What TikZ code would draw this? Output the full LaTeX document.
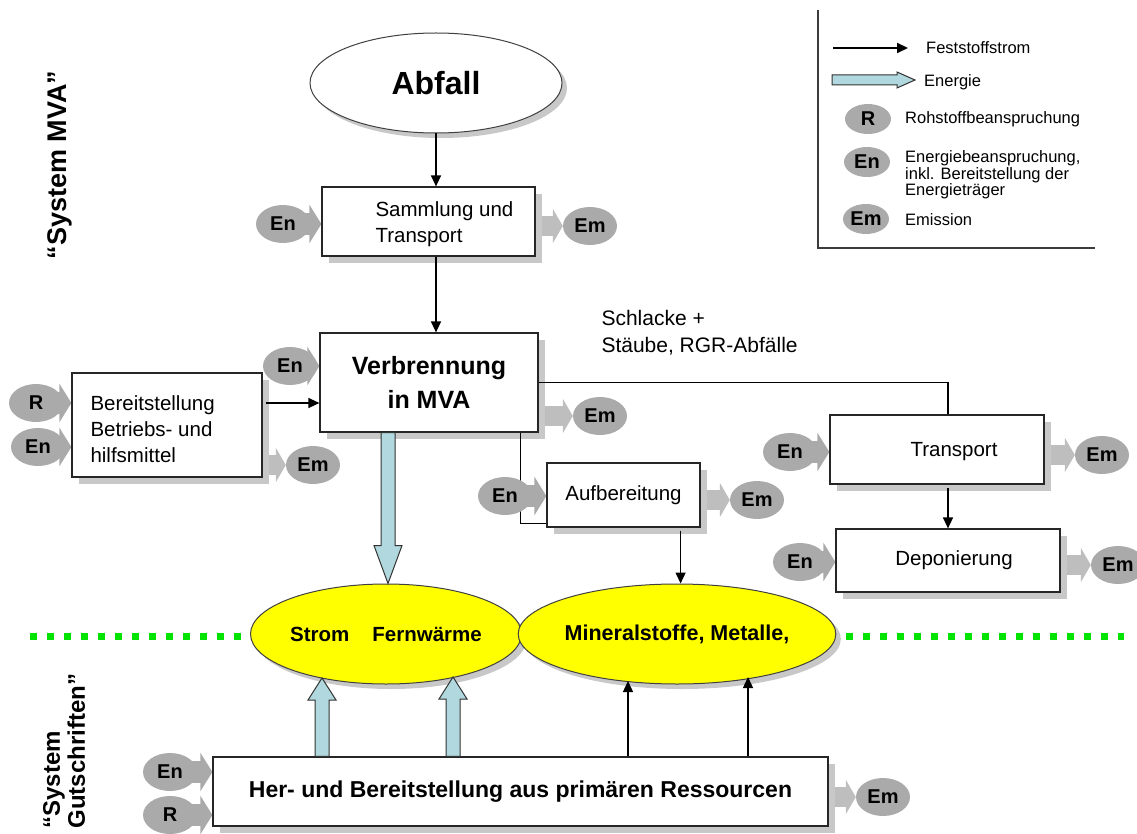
\documentclass[tikz,border=0pt]{standalone}
\usepackage{fontspec}
\setmainfont{Liberation Sans}
\usetikzlibrary{shapes.geometric,arrows.meta,calc,shadows}
\pgfdeclarelayer{feeds}
\pgfsetlayers{feeds,main}

\definecolor{blobgray}{RGB}{170,170,170}
\definecolor{feedgray}{RGB}{190,190,190}
\definecolor{shadowgray}{RGB}{200,200,200}
\definecolor{energyblue}{RGB}{176,216,222}
\definecolor{productyellow}{RGB}{255,255,0}
\definecolor{boundarygreen}{RGB}{0,228,0}
\definecolor{framegray}{RGB}{60,60,60}

\newcommand\sz[2]{\fontsize{#1}{#2}\selectfont}

% hollow energy arrow: start, tip, shaft half width, head half width, head length
\newcommand\energyarrow[5]{%
  \coordinate (ea-base) at ($(#2)!#5!(#1)$);
  \draw[energy] ($(#1)!#3!90:(#2)$) -- ($(ea-base)!#3!90:(#2)$)
    -- ($(ea-base)!#4!90:(#2)$) -- (#2) -- ($(ea-base)!#4!-90:(#2)$)
    -- ($(ea-base)!#3!-90:(#2)$) -- ($(#1)!#3!-90:(#2)$) -- cycle;}

% grey input bubble feeding a process box from the left
\newcommand\inblob[4]{% name, position, label, box
  \node[blob] (#1) at (#2) {#3};
  \begin{pgfonlayer}{feeds}
    \draw[infeed] (#1.center) -- (#4.west |- #1.center);
  \end{pgfonlayer}}

% grey emission bubble fed from the right side of a process box
\newcommand\outblob[3]{% name, position, box
  \node[blob] (#1) at (#2) {Em};
  \begin{pgfonlayer}{feeds}
    \draw[outfeed] (#3.east |- #1.center) -- (#1.west);
  \end{pgfonlayer}}

\begin{document}
\begin{tikzpicture}[x=1pt,y=-1pt,
  box/.style={draw=black!85, line width=1.2pt, fill=white, inner sep=0pt,
    drop shadow={shadow xshift=7pt, shadow yshift=-7pt, fill=shadowgray, opacity=1}},
  oval/.style={ellipse, draw=black!75, line width=1pt, inner sep=0pt,
    drop shadow={shadow xshift=5pt, shadow yshift=-5pt, fill=shadowgray, opacity=1}},
  blob/.style={ellipse, fill=blobgray, minimum width=54pt, minimum height=38pt,
    inner sep=0pt, font=\bfseries\sz{20}{20}},
  legblob/.style={blob, minimum width=46pt, minimum height=30pt},
  infeed/.style={blobgray, line width=22pt, -{Triangle[length=12pt,width=38pt]}},
  outfeed/.style={feedgray, line width=20pt, -{Triangle[length=10pt,width=34pt]}},
  flow/.style={line width=1.4pt, -{Triangle[length=11pt,width=10pt]}},
  link/.style={line width=1.2pt},
  energy/.style={draw=black!80, line width=1pt, fill=energyblue},
  txt/.style={font=\sz{20.5}{26}, align=left},
  legtxt/.style={font=\sz{16.5}{16.5}, align=left, inner sep=2pt},
]
\useasboundingbox (0,0) rectangle (1137,834);

% boundary between the incineration system and the credit system
\coordinate (boundL) at (30,636);
\coordinate (boundR) at (1124,636);
\draw[boundarygreen, line width=7pt, dash pattern=on 7pt off 10pt] (boundL) -- (boundR);

% system labels
\node[rotate=90, font=\bfseries\sz{27}{27}] (sys-mva) at (60,165) {“System MVA”};
\node[rotate=90, anchor=west, align=left, font=\bfseries\sz{24}{25}] (sys-credit) at (64,832) {“System\\Gutschriften”};

% process chain
\node[oval, fill=white, minimum width=252pt, minimum height=100pt, font=\bfseries\sz{32}{32}] (abfall) at (436,83) {Abfall};
\node[box, minimum width=213pt, minimum height=69pt] (samm) at (428.5,221.5) {};
\node[txt, anchor=west] (samm-t) at (372,224) {Sammlung und\\Transport};
\node[box, minimum width=218pt, minimum height=99pt, font=\bfseries\sz{25}{34}, align=center] (verb) at (429,382.5) {Verbrennung\\in MVA};
\node[box, minimum width=190pt, minimum height=104pt] (bereit) at (167,425) {};
\node[txt, anchor=west] (bereit-t) at (87,429) {Bereitstellung\\Betriebs- und\\hilfsmittel};
\node[box, minimum width=153pt, minimum height=64pt, font=\sz{20.5}{26}] (aufb) at (623.5,495) {Aufbereitung};
\node[box, minimum width=214pt, minimum height=69pt] (transp) at (937,449.5) {};
\node[txt] (transp-t) at (954,452) {Transport};
\node[box, minimum width=224pt, minimum height=63pt] (depo) at (948,560.5) {};
\node[txt] (depo-t) at (954,560) {Deponierung};
\node[box, minimum width=615pt, minimum height=69pt, font=\bfseries\sz{23}{23}] (her) at (520.5,791.5) {Her- und Bereitstellung aus primären Ressourcen};
\node[oval, fill=productyellow, minimum width=270pt, minimum height=100pt, font=\bfseries\sz{20.5}{20.5}] (strom) at (386,634) {Strom\hspace{23pt}Fernwärme};
\node[oval, fill=productyellow, minimum width=275pt, minimum height=100pt, font=\bfseries\sz{21.5}{21.5}] (mineral) at (677,634) {Mineralstoffe, Metalle,};
\node[txt, font=\sz{21}{27}, anchor=north west] (slag-t) at (598,307) {Schlacke +\\Stäube, RGR-Abfälle};

% solid flows
\draw[flow] (abfall.south) -- (abfall.south |- samm.north);
\draw[flow] (samm.south -| abfall.south) -- (verb.north -| abfall.south);
\coordinate (aux-in) at ($(bereit.east)+(3,-22)$);
\draw[flow] (aux-in) -- (verb.west |- aux-in);
\draw[link] (verb.east) -| (transp.north -| depo.north);
\coordinate (slag-drop) at ($(verb.south east)+(-18,0)$);
\coordinate (aufb-in) at ($(aufb.south west)+(0,-4)$);
\draw[link] (slag-drop) |- (aufb-in);
\coordinate (aufb-out) at ($(aufb.south east)+(-20,3)$);
\draw[flow] (aufb-out) -- (aufb-out |- mineral.north);
\coordinate (transp-out) at ($(transp.south -| depo.north)+(0,3)$);
\draw[flow] (transp-out) -- (depo.north);

% energy flows
\coordinate (heat-top) at ($(verb.south)+(-41,0)$);
\coordinate (heat-tip) at (heat-top |- strom.north);
\energyarrow{heat-top}{heat-tip}{7pt}{14pt}{38pt}
\coordinate (tipA) at ($(strom.center)+(-64,44)$);
\coordinate (tipB) at ($(strom.center)+(67,43)$);
\coordinate (baseA) at (her.north -| tipA);
\coordinate (baseB) at (her.north -| tipB);
\energyarrow{baseA}{tipA}{7pt}{14pt}{22pt}
\energyarrow{baseB}{tipB}{7pt}{14pt}{22pt}

% credited material flows
\coordinate (tipC) at ($(mineral.center)+(-49,47)$);
\coordinate (tipD) at ($(mineral.center)+(71,43)$);
\draw[flow] (her.north -| tipC) -- (tipC);
\draw[flow] (her.north -| tipD) -- (tipD);

% inputs and emissions
\inblob{samm-en}{283,224}{En}{samm}
\outblob{samm-em}{590,226}{samm}
\inblob{verb-en}{290,366}{En}{verb}
\outblob{verb-em}{600,416}{verb}
\inblob{bereit-r}{36,403}{R}{bereit}
\inblob{bereit-en}{38,447}{En}{bereit}
\outblob{bereit-em}{313,465}{bereit}
\inblob{aufb-en}{505,496}{En}{aufb}
\outblob{aufb-em}{757,500}{aufb}
\inblob{transp-en}{790,452}{En}{transp}
\outblob{transp-em}{1102,455}{transp}
\inblob{depo-en}{800,562}{En}{depo}
\outblob{depo-em}{1118,565}{depo}
\inblob{her-en}{170,772}{En}{her}
\inblob{her-r}{170,815}{R}{her}
\outblob{her-em}{883,797}{her}

% legend
\coordinate (leg-top) at (818,10);
\coordinate (leg-corner) at (818,248);
\coordinate (leg-end) at (1095,248);
\draw[framegray, line width=1.2pt] (leg-top) -- (leg-corner) -- (leg-end);
\node[legtxt, anchor=west] (leg-flow-t) at (924,48) {Feststoffstrom};
\coordinate (leg-flow) at (833,48);
\draw[flow, line width=2pt] (leg-flow) -- ($(leg-flow-t.west)+(-16,0)$);
\node[legtxt, anchor=west] (leg-energy-t) at (922,82) {Energie};
\coordinate (leg-energy) at (832,80);
\coordinate (leg-energy-tip) at ($(leg-energy-t.west)+(-7,-2)$);
\energyarrow{leg-energy}{leg-energy-tip}{5pt}{8pt}{18pt}
\node[legblob] (leg-r) at (868,119) {R};
\node[legtxt, anchor=west] (leg-r-t) at (903,119) {Rohstoffbeanspruchung};
\node[legblob] (leg-en) at (867,162) {En};
\node[legtxt, anchor=west] (leg-en-t) at (903,175) {Energiebeanspruchung,\\inkl. Bereitstellung der\\Energieträger};
\node[legblob] (leg-em) at (866,219) {Em};
\node[legtxt, anchor=west] (leg-em-t) at (903,220) {Emission};
\end{tikzpicture}
\end{document}
